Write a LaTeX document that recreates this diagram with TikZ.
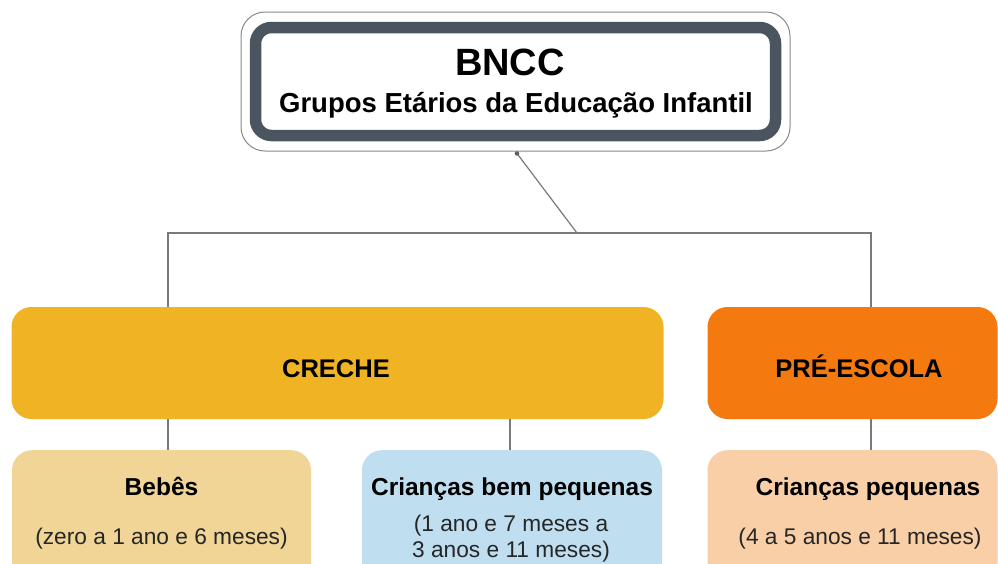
\documentclass[tikz,border=0pt]{standalone}
\usepackage{fontspec}
\setmainfont{Liberation Sans}
\definecolor{linegray}{HTML}{7A7A7A}
\definecolor{framedark}{HTML}{4B5560}
\definecolor{framelight}{HTML}{8A8A8A}
\definecolor{crecheC}{HTML}{F0B323}
\definecolor{preC}{HTML}{F47A10}
\definecolor{bebesC}{HTML}{F0D597}
\definecolor{bemC}{HTML}{BFDFF0}
\definecolor{pequC}{HTML}{F9CFA8}
\tikzset{
  conn/.style={draw=linegray, line width=1.5pt},
  bigbox/.style={rectangle, rounded corners=20pt, draw=none, minimum height=112pt},
  smallbox/.style={rectangle, rounded corners=20pt, draw=none, minimum height=140pt},
  boldlbl/.style={font=\fontsize{24.5}{28}\selectfont\bfseries, text=black, inner sep=0pt, anchor=base},
  sublbl/.style={font=\fontsize{22.7}{27}\selectfont, text=black!85, inner sep=0pt, anchor=base},
}
\begin{document}
\begin{tikzpicture}[x=1pt,y=-1pt]
\useasboundingbox (0,0) rectangle (998,563);
\clip (0,0) rectangle (998,563);
\fill[white] (0,0) rectangle (998,563);
% top title
\node[rectangle, rounded corners=24pt, draw=framelight, line width=1pt, fill=white,
  minimum width=549pt, minimum height=139pt] (top) at (515.5,81.5) {};
\node[rectangle, rounded corners=16pt, draw=framedark, line width=11.5pt,
  minimum width=520pt, minimum height=108pt] (inner) at (515.5,81.5) {};
\node[font=\fontsize{38}{44}\selectfont\bfseries, inner sep=0pt, anchor=base] (bncc) at (510,75) {BNCC};
\node[font=\fontsize{27.5}{32}\selectfont\bfseries, inner sep=0pt, anchor=base] (sub) at (516,112) {Grupos Etários da Educação Infantil};
% level 1
\node[bigbox, fill=crecheC, minimum width=652pt] (creche) at (337.5,363) {};
\node[boldlbl, font=\fontsize{25.5}{28}\selectfont\bfseries] at (336,377) {CRECHE};
\node[bigbox, fill=preC, minimum width=290pt] (pre) at (852.5,363) {};
\node[boldlbl, font=\fontsize{25.5}{28}\selectfont\bfseries] at (859,377) {PRÉ-ESCOLA};
% level 2
\node[smallbox, fill=bebesC, minimum width=299pt, anchor=north] (bebes) at (161.5,450) {};
\node[boldlbl] at (161.5,495) {Bebês};
\node[sublbl] at (161.5,544) {(zero a 1 ano e 6 meses)};
\node[smallbox, fill=bemC, minimum width=300pt, anchor=north] (bem) at (512,450) {};
\node[boldlbl] at (512,495) {Crianças bem pequenas};
\node[sublbl] at (511,531) {(1 ano e 7 meses a};
\node[sublbl] at (511,557) {3 anos e 11 meses)};
\node[smallbox, fill=pequC, minimum width=290pt, anchor=north] (pequ) at (852.5,450) {};
\node[boldlbl] at (868,495) {Crianças pequenas};
\node[sublbl] at (860,544) {(4 a 5 anos e 11 meses)};
% connectors
\coordinate (j) at (577,233);
\coordinate (jl) at (168,233);
\coordinate (jr) at (871,233);
\draw[draw=linegray, line width=1.2pt] (top.south) ++(1.5,2) coordinate (ts) -- (j);
\fill[linegray!80!black] (ts) circle (2.3pt);
\draw[conn] (jl |- creche.north) -- (jl) -- (jr) -- (jr |- pre.north);
\draw[conn] (jl |- creche.south) -- (jl |- bebes.north);
\draw[conn] (510,419) coordinate (cb) -- (cb |- bem.north);
\draw[conn] (jr |- pre.south) -- (jr |- pequ.north);
\end{tikzpicture}
\end{document}
